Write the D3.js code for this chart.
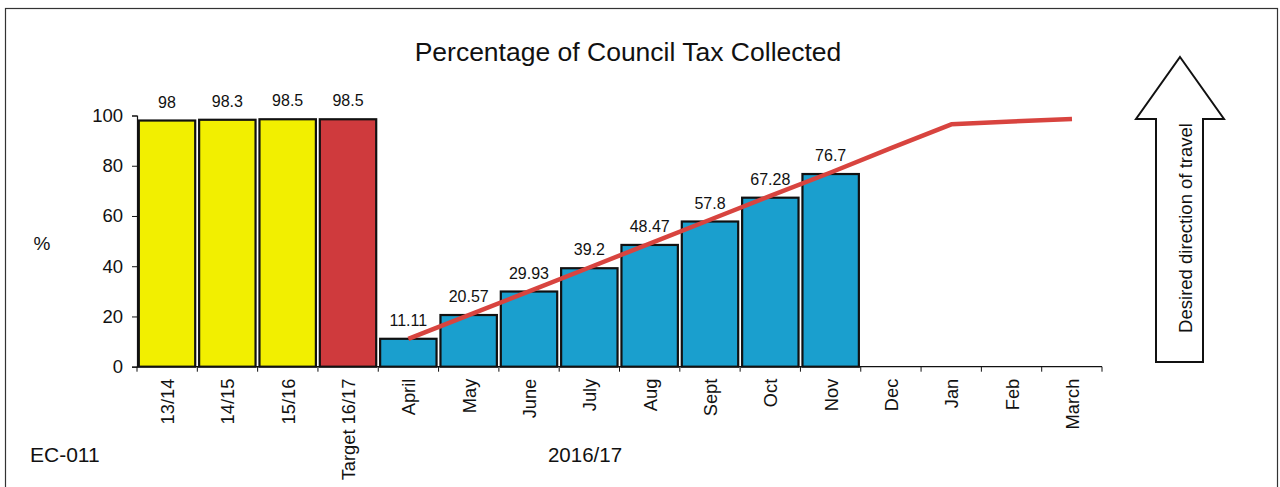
<!DOCTYPE html>
<html>
<head>
<meta charset="utf-8">
<script src="https://cdn.jsdelivr.net/npm/d3@7"></script>
<style>
  html, body { margin: 0; padding: 0; background: #fff; }
  svg { display: block; font-family: "Liberation Sans", Arial, sans-serif; }
</style>
</head>
<body>
<svg id="chart" width="1280" height="487"></svg>
<script>
// ---- data ----
const categories = ["13/14", "14/15", "15/16", "Target 16/17", "April", "May", "June", "July", "Aug", "Sept", "Oct", "Nov", "Dec", "Jan", "Feb", "March"];
const barValues = [98, 98.3, 98.5, 98.5, 11.11, 20.57, 29.93, 39.2, 48.47, 57.8, 67.28, 76.7, null, null, null, null];
const barGroups = ["previous", "previous", "previous", "target", "actual", "actual", "actual", "actual", "actual", "actual", "actual", "actual", "actual", "actual", "actual", "actual"];
const profileMonths = ["April", "May", "June", "July", "Aug", "Sept", "Oct", "Nov", "Dec", "Jan", "Feb", "March"];
const profileValues = [11.11, 20.5, 30, 39.5, 49, 58.5, 68, 77.3, 87, 96.5, 97.6, 98.6];
const yTicks = [0, 20, 40, 60, 80, 100];
const titleText = "Percentage of Council Tax Collected";
const yLabel = "%";
const xLabel = "2016/17";
const codeLabel = "EC-011";
const arrowLabel = "Desired direction of travel";

// ---- styles ----
const groupColor = { previous: "#f2ef00", target: "#cf3a3d", actual: "#1a9fce" };

const svg = d3.select("#chart");

// outer frame
svg.append("rect").attr("x", 5.5).attr("y", 8.5).attr("width", 1272).attr("height", 490)
  .attr("fill", "none").attr("stroke", "#333").attr("stroke-width", 1.2);

const x = d3.scaleBand().domain(categories).range([137, 1102]).paddingInner(0.065).paddingOuter(0.03);
const y = d3.scaleLinear().domain([0, 100]).range([366.7, 115.5]);

// title
svg.append("text").attr("x", 628).attr("y", 61).attr("text-anchor", "middle")
  .attr("font-size", 26.5).attr("fill", "#111").text(titleText);

// bars
const bars = categories.map((c, i) => ({ c, v: barValues[i], g: barGroups[i] })).filter(d => d.v != null);
svg.append("g").selectAll("rect").data(bars).join("rect")
  .attr("x", d => x(d.c)).attr("y", d => y(d.v))
  .attr("width", x.bandwidth()).attr("height", d => y(0) - y(d.v))
  .attr("fill", d => groupColor[d.g]).attr("stroke", "#111").attr("stroke-width", 2.2);

// data labels
svg.append("g").selectAll("text").data(bars).join("text")
  .attr("x", d => x(d.c) + x.bandwidth() / 2).attr("y", d => y(d.v) - 13)
  .attr("text-anchor", "middle").attr("font-size", 16).attr("fill", "#111")
  .text(d => String(d.v));

// profile line
const line = d3.line().x(d => x(d[0]) + x.bandwidth() / 2).y(d => y(d[1]));
svg.append("path").datum(profileMonths.map((m, i) => [m, profileValues[i]]))
  .attr("d", line).attr("fill", "none").attr("stroke", "#d8443f").attr("stroke-width", 4.5)
  .attr("stroke-linejoin", "round");

// y axis
const yAxis = svg.append("g").attr("transform", "translate(137,0)")
  .call(d3.axisLeft(y).tickValues(yTicks).tickSize(5).tickPadding(9));
yAxis.select(".domain").attr("stroke", "#111").attr("stroke-width", 1.2);
yAxis.selectAll(".tick line").attr("stroke", "#111");
yAxis.selectAll("text").attr("font-size", 18.5).attr("fill", "#111").attr("font-family", "Liberation Sans, Arial, sans-serif");

// x axis
const xAxisG = svg.append("g").attr("transform", `translate(0,${y(0)})`);
xAxisG.append("line").attr("x1", 137).attr("x2", 1102).attr("y1", 0).attr("y2", 0)
  .attr("stroke", "#111").attr("stroke-width", 1.2);
const boundaries = d3.range(categories.length + 1).map(i => 137 + i * (1102 - 137) / categories.length);
xAxisG.selectAll("line.tk").data(boundaries).join("line").attr("class", "tk")
  .attr("x1", d => d).attr("x2", d => d).attr("y1", 0).attr("y2", 5)
  .attr("stroke", "#111").attr("stroke-width", 1);
xAxisG.selectAll("text").data(categories).join("text")
  .attr("transform", d => `translate(${x(d) + x.bandwidth() / 2 + 7},12) rotate(-90)`)
  .attr("text-anchor", "end").attr("font-size", 18.3).attr("fill", "#111").text(d => d);

// axis titles and other labels
svg.append("text").attr("x", 42).attr("y", 250).attr("text-anchor", "middle")
  .attr("font-size", 19).attr("fill", "#111").text(yLabel);
svg.append("text").attr("x", 585).attr("y", 462).attr("text-anchor", "middle")
  .attr("font-size", 20.5).attr("fill", "#111").text(xLabel);
svg.append("text").attr("x", 30).attr("y", 462).attr("text-anchor", "start")
  .attr("font-size", 21).attr("fill", "#111").text(codeLabel);

// direction arrow
const arrowPts = [[1180, 57], [1224, 119], [1203, 119], [1203, 362], [1156, 362], [1156, 119], [1136, 119]];
svg.append("polygon").attr("points", arrowPts.map(p => p.join(",")).join(" "))
  .attr("fill", "#fff").attr("stroke", "#111").attr("stroke-width", 2);
svg.append("text").attr("transform", "translate(1192,228) rotate(-90)").attr("text-anchor", "middle")
  .attr("font-size", 18.5).attr("fill", "#111").text(arrowLabel);
</script>
</body>
</html>
